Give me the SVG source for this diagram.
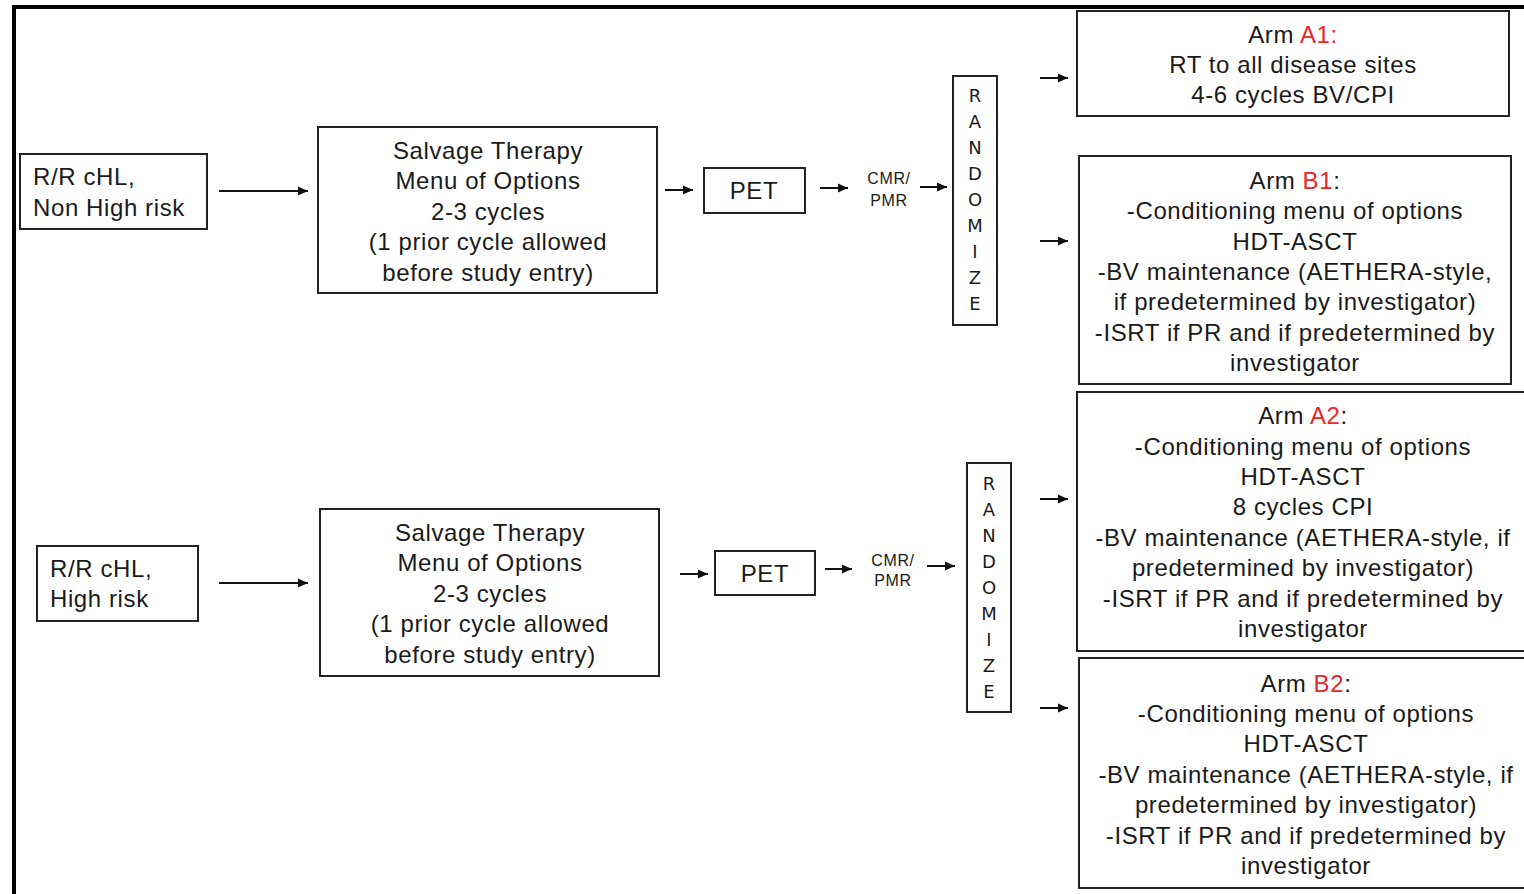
<svg xmlns="http://www.w3.org/2000/svg" width="1524" height="894" viewBox="0 0 1524 894">
<defs>
<marker id="ah" viewBox="0 0 10 10" refX="10" refY="5" markerWidth="10" markerHeight="10" markerUnits="userSpaceOnUse" orient="auto">
<path d="M0,0.5 L10,5 L0,9.5 z" fill="#111"/>
</marker>
<style>
.box{fill:#fff;stroke:#222;stroke-width:2}
.t{font-family:"Liberation Sans",Arial,sans-serif;font-size:24px;letter-spacing:0.6px;fill:#1a1a1a}
.c{text-anchor:middle}
.s{font-family:"Liberation Sans",Arial,sans-serif;font-size:16px;letter-spacing:0.6px;fill:#1a1a1a;text-anchor:middle}
.r{font-family:"DejaVu Sans","Liberation Sans",sans-serif;font-size:18px;fill:#1a1a1a;text-anchor:middle}
.red{fill:#e8262a}
.con{stroke:#111;stroke-width:2;fill:none;marker-end:url(#ah)}
</style>
</defs>
<rect width="1524" height="894" fill="#fff"/>
<rect x="14" y="7" width="1560" height="940" fill="none" stroke="#000" stroke-width="4"/>

<g id="connectors">
<line class="con" x1="219" y1="191" x2="308" y2="191"/>
<line class="con" x1="665" y1="190" x2="693" y2="190"/>
<line class="con" x1="820" y1="188" x2="848" y2="188"/>
<line class="con" x1="920" y1="187" x2="947" y2="187"/>
<line class="con" x1="1040" y1="78" x2="1068" y2="78"/>
<line class="con" x1="1040" y1="241" x2="1068" y2="241"/>
<line class="con" x1="219" y1="583" x2="308" y2="583"/>
<line class="con" x1="680" y1="574" x2="708" y2="574"/>
<line class="con" x1="825" y1="569" x2="852" y2="569"/>
<line class="con" x1="927" y1="566" x2="955" y2="566"/>
<line class="con" x1="1040" y1="499" x2="1068" y2="499"/>
<line class="con" x1="1040" y1="708" x2="1068" y2="708"/>
</g>

<g id="start1">
<rect class="box" x="20" y="154" width="187" height="75"/>
<text class="t" x="33" y="185">R/R cHL,</text>
<text class="t" x="33" y="216">Non High risk</text>
</g>
<g id="salvage1">
<rect class="box" x="318" y="127" width="339" height="166"/>
<text class="t c" x="488" y="159">Salvage Therapy</text>
<text class="t c" x="488" y="189">Menu of Options</text>
<text class="t c" x="488" y="220">2-3 cycles</text>
<text class="t c" x="488" y="250">(1 prior cycle allowed</text>
<text class="t c" x="488" y="281">before study entry)</text>
</g>
<g id="pet1">
<rect class="box" x="704" y="168" width="101" height="45"/>
<text class="t c" x="754" y="199">PET</text>
</g>
<g id="cmr1">
<text class="s" x="889" y="184">CMR/</text>
<text class="s" x="889" y="206">PMR</text>
</g>
<g id="rand1">
<rect class="box" x="953" y="76" width="44" height="249"/>
<text class="r" x="975" y="102">R</text>
<text class="r" x="975" y="128">A</text>
<text class="r" x="975" y="154">N</text>
<text class="r" x="975" y="180">D</text>
<text class="r" x="975" y="206">O</text>
<text class="r" x="975" y="232">M</text>
<text class="r" x="975" y="258">I</text>
<text class="r" x="975" y="284">Z</text>
<text class="r" x="975" y="310">E</text>
</g>
<g id="armA1">
<rect class="box" x="1077" y="11" width="432" height="105"/>
<text class="t c" x="1293" y="43">Arm <tspan class="red">A1:</tspan></text>
<text class="t c" x="1293" y="73">RT to all disease sites</text>
<text class="t c" x="1293" y="103">4-6 cycles BV/CPI</text>
</g>
<g id="armB1">
<rect class="box" x="1079" y="156" width="432" height="228"/>
<text class="t c" x="1295" y="189">Arm <tspan class="red">B1</tspan>:</text>
<text class="t c" x="1295" y="219">-Conditioning menu of options</text>
<text class="t c" x="1295" y="250">HDT-ASCT</text>
<text class="t c" x="1295" y="280">-BV maintenance (AETHERA-style,</text>
<text class="t c" x="1295" y="310">if predetermined by investigator)</text>
<text class="t c" x="1295" y="341">-ISRT if PR and if predetermined by</text>
<text class="t c" x="1295" y="371">investigator</text>
</g>

<g id="start2">
<rect class="box" x="37" y="546" width="161" height="75"/>
<text class="t" x="50" y="577">R/R cHL,</text>
<text class="t" x="50" y="607">High risk</text>
</g>
<g id="salvage2">
<rect class="box" x="320" y="509" width="339" height="167"/>
<text class="t c" x="490" y="541">Salvage Therapy</text>
<text class="t c" x="490" y="571">Menu of Options</text>
<text class="t c" x="490" y="602">2-3 cycles</text>
<text class="t c" x="490" y="632">(1 prior cycle allowed</text>
<text class="t c" x="490" y="663">before study entry)</text>
</g>
<g id="pet2">
<rect class="box" x="715" y="551" width="100" height="44"/>
<text class="t c" x="765" y="582">PET</text>
</g>
<g id="cmr2">
<text class="s" x="893" y="566">CMR/</text>
<text class="s" x="893" y="586">PMR</text>
</g>
<g id="rand2">
<rect class="box" x="967" y="463" width="44" height="249"/>
<text class="r" x="989" y="490">R</text>
<text class="r" x="989" y="516">A</text>
<text class="r" x="989" y="542">N</text>
<text class="r" x="989" y="568">D</text>
<text class="r" x="989" y="594">O</text>
<text class="r" x="989" y="620">M</text>
<text class="r" x="989" y="646">I</text>
<text class="r" x="989" y="672">Z</text>
<text class="r" x="989" y="698">E</text>
</g>
<g id="armA2">
<rect class="box" x="1077" y="392" width="470" height="259"/>
<text class="t c" x="1303" y="424">Arm <tspan class="red">A2</tspan>:</text>
<text class="t c" x="1303" y="455">-Conditioning menu of options</text>
<text class="t c" x="1303" y="485">HDT-ASCT</text>
<text class="t c" x="1303" y="515">8 cycles CPI</text>
<text class="t c" x="1303" y="546">-BV maintenance (AETHERA-style, if</text>
<text class="t c" x="1303" y="576">predetermined by investigator)</text>
<text class="t c" x="1303" y="607">-ISRT if PR and if predetermined by</text>
<text class="t c" x="1303" y="637">investigator</text>
</g>
<g id="armB2">
<rect class="box" x="1079" y="658" width="470" height="230"/>
<text class="t c" x="1306" y="692">Arm <tspan class="red">B2</tspan>:</text>
<text class="t c" x="1306" y="722">-Conditioning menu of options</text>
<text class="t c" x="1306" y="752">HDT-ASCT</text>
<text class="t c" x="1306" y="783">-BV maintenance (AETHERA-style, if</text>
<text class="t c" x="1306" y="813">predetermined by investigator)</text>
<text class="t c" x="1306" y="844">-ISRT if PR and if predetermined by</text>
<text class="t c" x="1306" y="874">investigator</text>
</g>
</svg>
